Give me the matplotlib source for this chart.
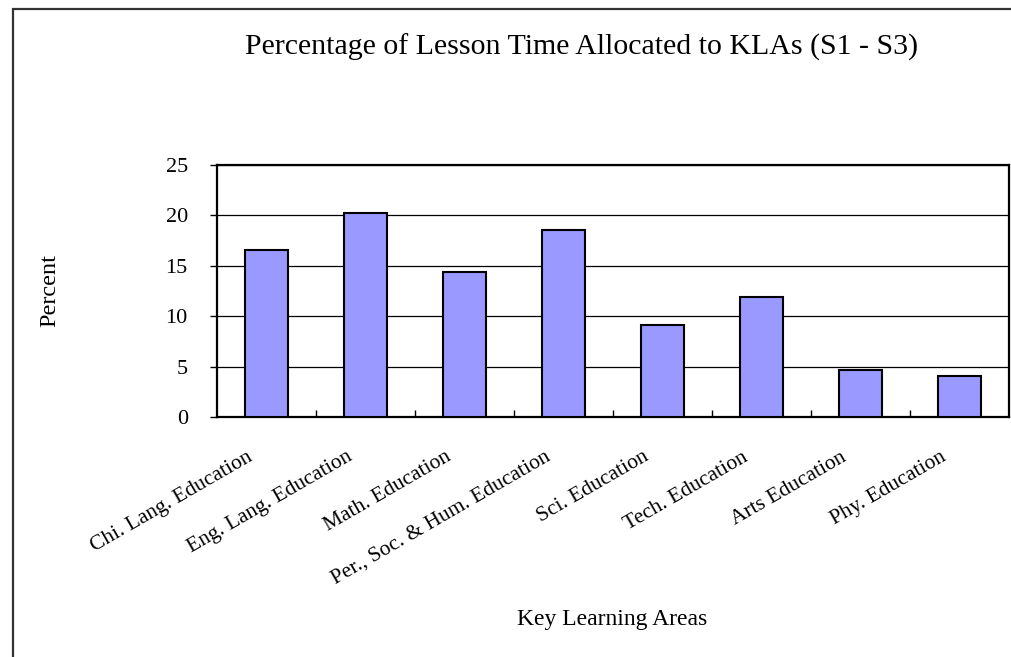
import matplotlib
matplotlib.use("Agg")
import matplotlib.pyplot as plt
import numpy as np
from matplotlib.transforms import ScaledTranslation
from matplotlib.patches import Rectangle

categories = ["Chi. Lang. Education", "Eng. Lang. Education", "Math. Education",
              "Per., Soc. & Hum. Education", "Sci. Education", "Tech. Education",
              "Arts Education", "Phy. Education"]
values = [16.6, 20.2, 14.4, 18.6, 9.1, 11.9, 4.7, 4.1]
yticks = [0, 5, 10, 15, 20, 25]

plt.rcParams['font.family'] = ['Liberation Serif', 'DejaVu Serif']

W, H = 1011, 657
fig = plt.figure(figsize=(W / 100, H / 100), dpi=100)

# outer chart frame (top and left sides visible)
fig.add_artist(Rectangle((12.5 / W, -0.1), 1.2, (H - 8.7) / H + 0.1,
                         transform=fig.transFigure, fill=False,
                         edgecolor='#333333', linewidth=1.6))

left, right, top, bottom = 217, 1009, 165, 417
ax = fig.add_axes([left / W, 1 - bottom / H, (right - left) / W, (bottom - top) / H])

x = np.arange(len(categories))
ax.bar(x, values, width=0.43, color='#9999FF', edgecolor='black', linewidth=1.5, zorder=3)

ax.set_xlim(-0.5, len(categories) - 0.5)
ax.set_ylim(0, 25)
ax.set_yticks(yticks)
ax.set_yticklabels([str(v) for v in yticks], fontsize=16)
ax.yaxis.grid(True, color='black', linewidth=0.9, zorder=0)
ax.set_axisbelow(True)
for s in ax.spines.values():
    s.set_linewidth(1.6)

ax.tick_params(axis='y', direction='out', length=5, width=1, pad=16)
ax.set_xticks(x)
ax.set_xticklabels(categories, fontsize=15.5, rotation=30, ha='right', va='center',
                   rotation_mode='anchor')
ax.tick_params(axis='x', which='major', length=0, pad=28)
ax.set_xticks(np.arange(0.5, len(categories) - 1, 1.0), minor=True)
ax.tick_params(axis='x', which='minor', direction='in', length=5, width=1)
for lab in ax.get_xticklabels():
    lab.set_transform(lab.get_transform() + ScaledTranslation(-15 / 100, 0, fig.dpi_scale_trans))

fig.text(582 / W, 1 - 47 / H, "Percentage of Lesson Time Allocated to KLAs (S1 - S3)",
         ha='center', va='center', fontsize=21.5)
fig.text(50 / W, 1 - 291 / H, "Percent", ha='center', va='center', rotation=90, fontsize=17.5)
fig.text(612 / W, 1 - 620 / H, "Key Learning Areas", ha='center', va='center', fontsize=17)

fig.savefig("out.png", dpi=100)
